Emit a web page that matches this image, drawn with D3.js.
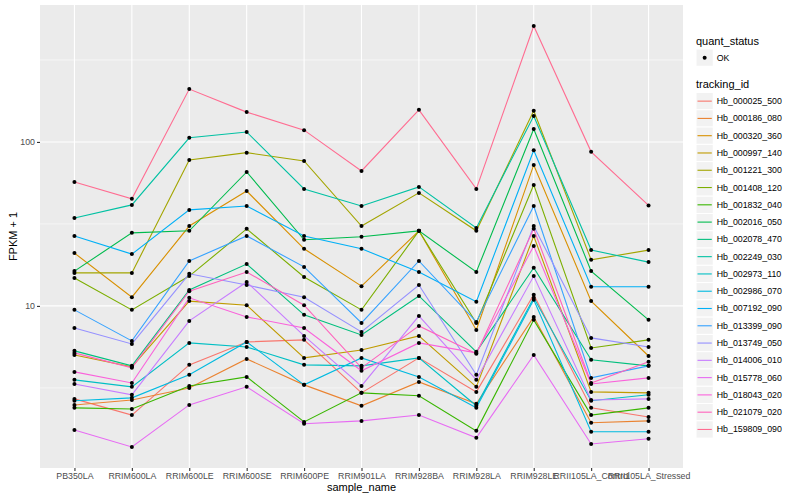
<!DOCTYPE html>
<html>
<head>
<meta charset="utf-8">
<script src="https://cdn.jsdelivr.net/npm/d3@7"></script>
<style>
  body { margin: 0; background: #fff; }
  text { font-family: "Liberation Sans", Arial, Helvetica, sans-serif; }
</style>
</head>
<body>
<div id="chart"></div>
<script>

//
// data
//
var samples = ["PB350LA", "RRIM600LA", "RRIM600LE", "RRIM600SE", "RRIM600PE", "RRIM901LA",
               "RRIM928BA", "RRIM928LA", "RRIM928LE", "RRII105LA_Control", "RRII105LA_Stressed"];

var trackingIds = ["Hb_000025_500", "Hb_000186_080", "Hb_000320_360", "Hb_000997_140", "Hb_001221_300",
                   "Hb_001408_120", "Hb_001832_040", "Hb_002016_050", "Hb_002078_470", "Hb_002249_030",
                   "Hb_002973_110", "Hb_002986_070", "Hb_007192_090", "Hb_013399_090", "Hb_013749_050",
                   "Hb_014006_010", "Hb_015778_060", "Hb_018043_020", "Hb_021079_020", "Hb_159809_090"];

var quantStatus = ["OK"];

// FPKM + 1, one row per tracking id, one value per sample
var fpkmPlusOne = [
  [2.71, 2.16, 4.37, 6.03, 6.21, 2.95, 4.82, 2.99, 11.7, 2.39, 2.10],
  [2.49, 2.67, 3.16, 4.75, 3.30, 2.46, 3.44, 2.53, 8.57, 1.94, 1.99],
  [21.0, 11.3, 30.7, 50.2, 22.3, 13.2, 28.7, 7.14, 72.4, 10.7, 4.95],
  [5.02, 4.25, 10.7, 10.1, 4.82, 5.39, 6.56, 3.21, 26.7, 2.99, 2.95],
  [15.9, 15.9, 77.6, 86.0, 76.6, 30.7, 48.9, 28.7, 155, 19.1, 21.9],
  [14.8, 9.46, 15.2, 29.5, 15.0, 9.46, 28.7, 7.87, 54.7, 5.54, 6.21],
  [2.39, 2.35, 3.25, 3.69, 1.96, 2.95, 2.83, 1.73, 8.22, 2.16, 2.39],
  [16.3, 27.9, 28.7, 65.6, 25.3, 26.4, 28.7, 16.1, 120, 16.3, 8.22],
  [5.32, 4.31, 12.5, 18.0, 8.82, 6.65, 11.5, 5.25, 17.1, 4.69, 4.31],
  [34.4, 41.3, 106, 115, 51.7, 40.7, 53.2, 29.9, 144, 21.9, 18.5],
  [3.54, 3.21, 5.95, 5.62, 4.37, 4.31, 4.82, 2.46, 11.2, 2.64, 2.87],
  [2.64, 2.75, 3.80, 6.03, 3.30, 4.82, 3.69, 2.39, 10.9, 1.71, 1.71],
  [26.7, 20.7, 38.5, 40.7, 26.7, 22.3, 16.1, 10.6, 89.0, 13.1, 13.1],
  [9.46, 6.12, 18.8, 26.7, 17.3, 7.87, 18.8, 7.99, 40.7, 3.64, 4.31],
  [7.34, 5.86, 15.7, 13.4, 11.3, 6.94, 13.4, 3.80, 30.7, 6.38, 5.62],
  [3.34, 2.87, 8.10, 14.0, 6.56, 3.25, 8.69, 3.54, 15.2, 2.67, 2.71],
  [1.75, 1.38, 2.49, 3.21, 1.91, 1.99, 2.16, 1.57, 5.02, 1.44, 1.55],
  [3.96, 3.39, 11.2, 8.57, 7.34, 4.02, 5.95, 5.17, 23.2, 3.34, 3.64],
  [5.17, 4.19, 12.3, 16.1, 10.1, 4.19, 7.55, 5.10, 29.5, 3.39, 4.56],
  [57.0, 45.0, 210, 152, 118, 66.5, 157, 51.7, 509, 87.0, 41.0]
];

var yBreaks = [10, 100];

// ggplot default hue palette for 20 levels
var colors = ["#F8766D", "#EA8331", "#D89000", "#C09B00", "#A3A500", "#7CAE00", "#39B600",
              "#00BB4E", "#00BF7D", "#00C1A3", "#00BFC4", "#00BAE0", "#00B0F6", "#35A2FF",
              "#9590FF", "#C77CFF", "#E76BF3", "#FA62DB", "#FF62BC", "#FF6C91"];


//
// setup
//
var width = 800,
    height = 500,
    panel = { left: 40, right: 683, top: 5, bottom: 468 };

var svg = d3.select("#chart")
    .append("svg")
    .attr("width", width)
    .attr("height", height)
    .style("background", "#fff");

var series = trackingIds.map(function(id, i) {
  return {
    id: id,
    color: colors[i],
    values: samples.map(function(s, j) { return { sample: s, value: fpkmPlusOne[i][j] }; })
  };
});

var allValues = d3.merge(fpkmPlusOne);
var logMin = Math.log10(d3.min(allValues)),
    logMax = Math.log10(d3.max(allValues)),
    pad = (logMax - logMin) * 0.05;

var x = d3.scalePoint()
    .domain(samples)
    .range([panel.left, panel.right])
    .padding(0.6);

var y = d3.scaleLog()
    .domain([Math.pow(10, logMin - pad), Math.pow(10, logMax + pad)])
    .range([panel.bottom, panel.top]);


//
// panel + grid
//
svg.append("rect")
    .attr("x", panel.left)
    .attr("y", panel.top)
    .attr("width", panel.right - panel.left)
    .attr("height", panel.bottom - panel.top)
    .attr("fill", "#EBEBEB");

var minorBreaks = [];
for (var k = -1; k <= 4; k++) {
  var m = Math.pow(10, k + 0.5);
  if (m > y.domain()[0] && m < y.domain()[1]) minorBreaks.push(m);
}

var grid = svg.append("g");
grid.selectAll("line.minor").data(minorBreaks).enter()
    .append("line")
    .attr("class", "minor")
    .attr("x1", panel.left).attr("x2", panel.right)
    .attr("y1", function(d) { return y(d); })
    .attr("y2", function(d) { return y(d); })
    .attr("stroke", "#fff")
    .attr("stroke-width", 0.55);

grid.selectAll("line.major-y").data(yBreaks).enter()
    .append("line")
    .attr("class", "major-y")
    .attr("x1", panel.left).attr("x2", panel.right)
    .attr("y1", function(d) { return y(d); })
    .attr("y2", function(d) { return y(d); })
    .attr("stroke", "#fff")
    .attr("stroke-width", 1.1);

grid.selectAll("line.major-x").data(samples).enter()
    .append("line")
    .attr("class", "major-x")
    .attr("y1", panel.top).attr("y2", panel.bottom)
    .attr("x1", function(d) { return x(d); })
    .attr("x2", function(d) { return x(d); })
    .attr("stroke", "#fff")
    .attr("stroke-width", 1.1);


//
// lines + points
//
var line = d3.line()
    .x(function(d) { return x(d.sample); })
    .y(function(d) { return y(d.value); });

svg.append("g")
  .selectAll("path")
  .data(series)
  .enter()
  .append("path")
    .attr("fill", "none")
    .attr("stroke", function(d) { return d.color; })
    .attr("stroke-width", 1.1)
    .attr("d", function(d) { return line(d.values); });

svg.append("g")
  .selectAll("circle")
  .data(d3.merge(series.map(function(s) { return s.values; })))
  .enter()
  .append("circle")
    .attr("cx", function(d) { return x(d.sample); })
    .attr("cy", function(d) { return y(d.value); })
    .attr("r", 2)
    .attr("fill", "#000");


//
// axes
//
var xAxis = svg.append("g")
    .attr("transform", "translate(0," + panel.bottom + ")")
    .call(d3.axisBottom(x).tickSize(3).tickPadding(2));

var yAxis = svg.append("g")
    .attr("transform", "translate(" + panel.left + ",0)")
    .call(d3.axisLeft(y).tickValues(yBreaks).tickFormat(d3.format("d")).tickSize(3).tickPadding(2));

[xAxis, yAxis].forEach(function(a) {
  a.select(".domain").remove();
  a.selectAll(".tick line").attr("stroke", "#333333").attr("stroke-width", 1.1);
  a.selectAll(".tick text")
    .attr("fill", "#4D4D4D")
    .style("font-size", "8.8px")
    .style("font-family", "'Liberation Sans', Arial, sans-serif");
});

svg.append("text")
    .attr("x", (panel.left + panel.right) / 2)
    .attr("y", 491)
    .attr("text-anchor", "middle")
    .style("font-size", "11px")
    .text("sample_name");

svg.append("text")
    .attr("transform", "translate(17," + (panel.top + panel.bottom) / 2 + ") rotate(-90)")
    .attr("text-anchor", "middle")
    .style("font-size", "11px")
    .text("FPKM + 1");


//
// legends
//
var keySize = 17.28,
    legendX = 696;

var lg = svg.append("g");

lg.append("text")
    .attr("x", legendX)
    .attr("y", 45)
    .style("font-size", "11px")
    .text("quant_status");

var qs = lg.selectAll("g.qs").data(quantStatus).enter()
    .append("g")
    .attr("class", "qs")
    .attr("transform", function(d, i) { return "translate(" + legendX + "," + (49 + i * keySize) + ")"; });

qs.append("rect")
    .attr("width", keySize).attr("height", keySize)
    .attr("fill", "#F2F2F2").attr("stroke", "#fff");
qs.append("circle")
    .attr("cx", keySize / 2).attr("cy", keySize / 2).attr("r", 2)
    .attr("fill", "#000");
qs.append("text")
    .attr("x", keySize + 3.5).attr("y", keySize / 2 + 3)
    .style("font-size", "8.8px")
    .text(function(d) { return d; });

lg.append("text")
    .attr("x", legendX)
    .attr("y", 88)
    .style("font-size", "11px")
    .text("tracking_id");

var keys = lg.selectAll("g.key").data(series).enter()
    .append("g")
    .attr("class", "key")
    .attr("transform", function(d, i) { return "translate(" + legendX + "," + (92.5 + i * keySize) + ")"; });

keys.append("rect")
    .attr("width", keySize).attr("height", keySize)
    .attr("fill", "#F2F2F2").attr("stroke", "#fff");
keys.append("line")
    .attr("x1", 1.5).attr("x2", keySize - 1.5)
    .attr("y1", keySize / 2).attr("y2", keySize / 2)
    .attr("stroke", function(d) { return d.color; })
    .attr("stroke-width", 1.1);
keys.append("text")
    .attr("x", keySize + 3.5).attr("y", keySize / 2 + 3)
    .style("font-size", "8.8px")
    .text(function(d) { return d.id; });

</script>
</body>
</html>
